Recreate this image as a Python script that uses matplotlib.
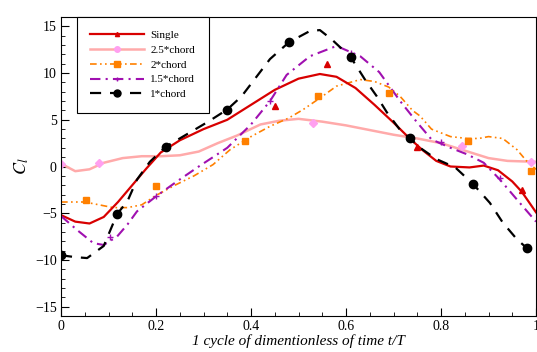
import matplotlib.pyplot as plt
from matplotlib.lines import Line2D
from matplotlib.ticker import MultipleLocator

plt.rcParams['font.family'] = ['Liberation Serif', 'DejaVu Serif']
plt.rcParams['mathtext.fontset'] = 'stix'

# curves
t_single = [0, 0.03, 0.06, 0.09, 0.12, 0.15, 0.18, 0.21, 0.25, 0.30, 0.35, 0.40, 0.45, 0.50,
            0.545, 0.58, 0.62, 0.66, 0.70, 0.73, 0.76, 0.79, 0.82, 0.86, 0.89, 0.92, 0.95, 0.97, 1.0]
c_single = [-5.2, -5.9, -6.1, -5.4, -3.8, -2.0, -0.2, 1.5, 2.8, 4.0, 5.0, 6.6, 8.2, 9.4,
            9.9, 9.6, 8.4, 6.6, 4.7, 3.2, 1.8, 0.6, 0.0, -0.1, 0.1, -0.4, -1.6, -2.7, -4.9]

t_25 = [0, 0.03, 0.06, 0.09, 0.13, 0.17, 0.21, 0.25, 0.29, 0.33, 0.37, 0.42, 0.46, 0.50,
        0.55, 0.60, 0.65, 0.70, 0.75, 0.80, 0.85, 0.90, 0.94, 1.0]
c_25 = [0.3, -0.5, -0.3, 0.4, 0.9, 1.1, 1.1, 1.2, 1.6, 2.5, 3.3, 4.5, 4.9, 5.1,
        4.8, 4.4, 3.9, 3.4, 3.0, 2.5, 1.7, 0.9, 0.6, 0.5]

t_2 = [0, 0.05, 0.08, 0.11, 0.14, 0.17, 0.20, 0.24, 0.28, 0.32, 0.356, 0.40, 0.44, 0.48, 0.51,
       0.55, 0.58, 0.63, 0.66, 0.69, 0.714, 0.74, 0.756, 0.78, 0.82, 0.855, 0.88, 0.90, 0.93,
       0.96, 0.98, 1.0]
c_2 = [-3.8, -3.8, -4.1, -4.4, -4.4, -4.1, -3.1, -2.0, -1.0, 0.2, 1.8, 3.2, 4.3, 5.2, 6.1,
       7.5, 8.6, 9.3, 9.1, 8.5, 7.5, 6.0, 5.4, 4.0, 3.2, 3.0, 3.0, 3.2, 3.0,
       1.8, 0.6, -0.3]

t_15 = [0, 0.034, 0.068, 0.09, 0.118, 0.14, 0.16, 0.20, 0.244, 0.29, 0.35, 0.40, 0.44, 0.475,
        0.524, 0.58, 0.63, 0.67, 0.714, 0.75, 0.78, 0.82, 0.855, 0.89, 0.924, 0.966, 1.0]
c_15 = [-5.3, -6.8, -8.2, -8.4, -7.5, -6.2, -4.8, -3.2, -1.6, 0.0, 2.0, 4.5, 7.0, 9.8,
        11.8, 12.9, 11.8, 10.1, 7.0, 4.7, 2.9, 2.0, 1.3, 0.4, -1.4, -3.9, -5.9]

t_1 = [0, 0.03, 0.055, 0.09, 0.118, 0.14, 0.16, 0.187, 0.22, 0.27, 0.31, 0.35, 0.38, 0.41,
       0.44, 0.48, 0.524, 0.545, 0.57, 0.61, 0.64, 0.665, 0.686, 0.714, 0.735, 0.756, 0.79,
       0.83, 0.868, 0.903, 0.93, 0.96, 0.98, 1.0]
c_1 = [-9.5, -9.7, -9.8, -8.5, -5.1, -3.7, -1.4, 0.5, 2.1, 3.6, 4.8, 6.1, 7.5, 9.5,
       11.5, 13.3, 14.5, 14.6, 13.6, 11.7, 9.3, 7.5, 5.8, 3.9, 3.0, 2.0, 0.8,
       -0.1, -1.9, -3.9, -6.0, -7.8, -8.7, -8.9]

# sample points (markers)
ts_single = [0.45, 0.56, 0.75, 0.97]
cs_single = [6.5, 11.0, 2.1, -2.5]
ts_25 = [0.0, 0.08, 0.53, 0.845, 0.99]
cs_25 = [0.3, 0.4, 4.7, 2.2, 0.5]
ts_2 = [0.053, 0.2, 0.387, 0.54, 0.69, 0.857, 0.99]
cs_2 = [-3.6, -2.1, 2.7, 7.5, 7.9, 2.7, -0.5]
ts_15 = [0.103, 0.2, 0.44, 0.61, 0.8, 0.924]
cs_15 = [-7.5, -3.2, 7.0, 12.2, 2.6, -1.2]
ts_1 = [0.0, 0.118, 0.22, 0.35, 0.48, 0.61, 0.735, 0.868, 0.98]
cs_1 = [-9.5, -5.1, 2.1, 6.1, 13.3, 11.7, 3.0, -1.9, -8.7]

labels = ['Single', '2.5*chord', '2*chord', '1.5*chord', '1*chord']

red = '#D80000'
pink = '#FFAAAA'
orange = '#FF8000'
purple = '#A010B0'

ls_2 = (0, (4, 2, 1, 2, 1, 2))
ls_15 = (0, (5, 2.5, 1, 2.5))
ls_1 = (0, (5, 4))

fig = plt.figure(figsize=(5.37, 3.52), dpi=100)
ax = fig.add_axes([61 / 537, 36 / 352, 475 / 537, 299 / 352])

ax.plot(t_25, c_25, color=pink, lw=1.8)
ax.plot(t_2, c_2, color=orange, lw=1.2, ls=ls_2)
ax.plot(t_single, c_single, color=red, lw=1.6)
ax.plot(t_15, c_15, color=purple, lw=1.5, ls=ls_15)
ax.plot(t_1, c_1, color='black', lw=1.6, ls=ls_1)

ax.plot(ts_single, cs_single, '^', color=red, ms=5, ls='none')
ax.plot(ts_25, cs_25, 'D', color='#FFA0F0', ms=4, ls='none')
ax.plot(ts_2, cs_2, 's', color=orange, ms=5, ls='none')
ax.plot(ts_15, cs_15, '+', color=purple, ms=4, mew=1, ls='none')
ax.plot(ts_1, cs_1, 'o', color='black', ms=6, ls='none')

ax.set_xlim(0, 1)
ax.set_ylim(-16, 16)
ax.xaxis.set_major_locator(MultipleLocator(0.2))
ax.xaxis.set_minor_locator(MultipleLocator(0.05))
ax.yaxis.set_major_locator(MultipleLocator(5))
ax.yaxis.set_minor_locator(MultipleLocator(1))
ax.set_xticks([0, 0.2, 0.4, 0.6, 0.8, 1.0])
ax.set_xticklabels(['0', '0.2', '0.4', '0.6', '0.8', '1'])
ax.tick_params(which='both', direction='in', top=False, right=False, labelsize=10, pad=3)
ax.tick_params(which='major', length=6)
ax.tick_params(which='minor', length=3)
ax.set_xlabel('1 cycle of dimentionless of time t/T', fontstyle='italic', fontsize=11, labelpad=1)
ax.set_ylabel('$C_l$', fontsize=13, labelpad=3)

handles = [
    Line2D([], [], color=red, lw=1.6, marker='^', ms=3),
    Line2D([], [], color=pink, lw=1.8, marker='o', mfc='#FFA0F0', mec='#FFA0F0', ms=4),
    Line2D([], [], color=orange, lw=1.2, ls=ls_2, marker='s', ms=4),
    Line2D([], [], color=purple, lw=1.5, ls=ls_15, marker='+', ms=3),
    Line2D([], [], color='black', lw=1.6, ls=ls_1, marker='o', ms=5),
]
leg = ax.legend(handles, labels, loc='upper left', bbox_to_anchor=(0.034, 1.0),
                borderaxespad=0, fancybox=False, framealpha=1, edgecolor='black',
                fontsize=8, handlelength=4.8, handletextpad=0.6, labelspacing=0.45,
                borderpad=1.2)
leg.get_frame().set_linewidth(0.8)

fig.savefig('out.png', dpi=100)
